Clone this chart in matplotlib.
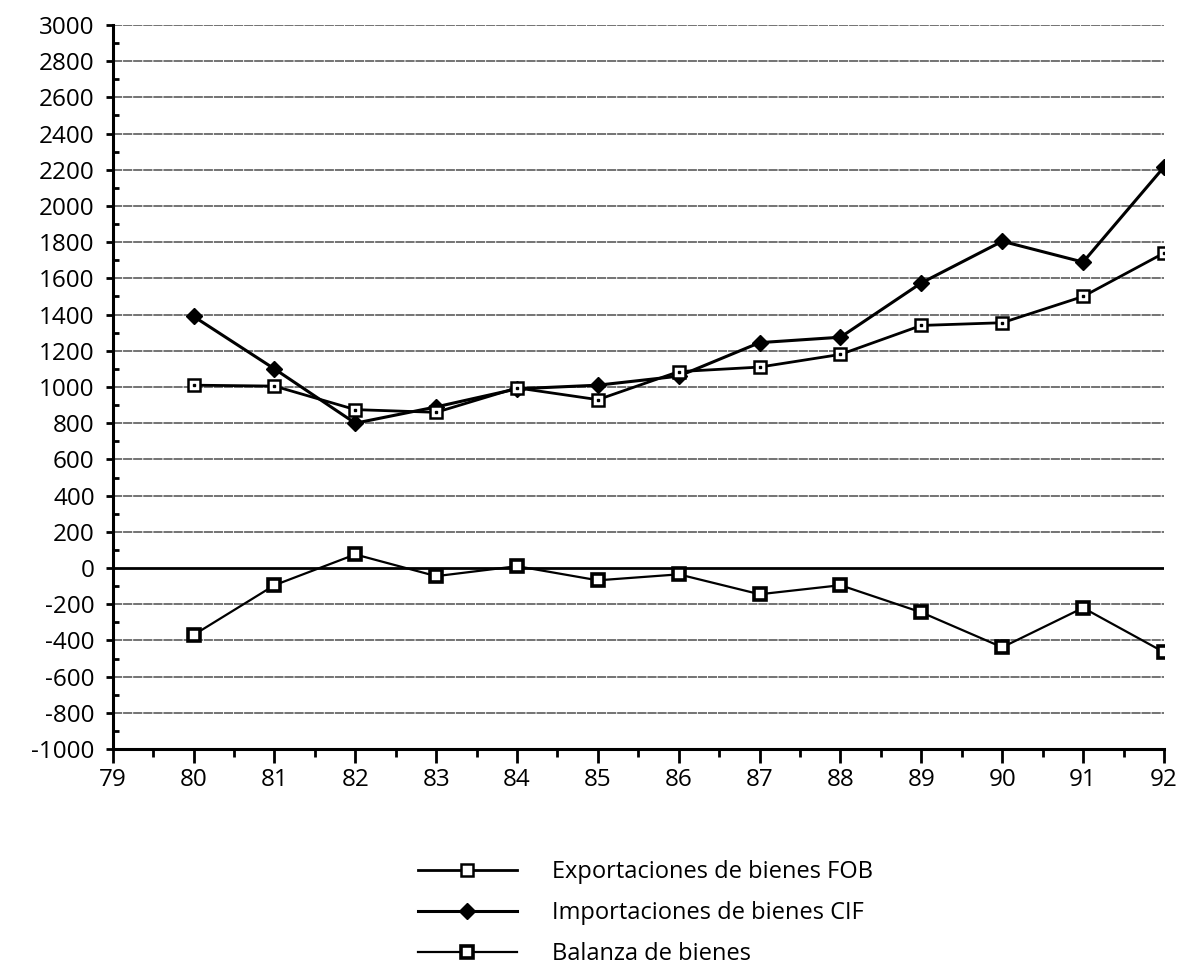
import numpy as np
import matplotlib
matplotlib.use("Agg")
import matplotlib.pyplot as plt
from matplotlib.ticker import MultipleLocator

plt.rcParams['font.family'] = ['Open Sans', 'DejaVu Sans']
plt.rcParams['axes.unicode_minus'] = False

# series (millones), años 1980-1992
years = [80, 81, 82, 83, 84, 85, 86, 87, 88, 89, 90, 91, 92]
exports = [1010, 1005, 875, 860, 995, 930, 1085, 1110, 1180, 1340, 1355, 1500, 1740]
imports = [1390, 1100, 800, 890, 990, 1010, 1060, 1245, 1275, 1575, 1805, 1690, 2215]
balance = [-370, -95, 75, -45, 10, -68, -35, -145, -95, -245, -438, -220, -465]

labels = ["Exportaciones de bienes FOB",
          "Importaciones de bienes CIF",
          "Balanza de bienes"]

fig = plt.figure(figsize=(11.8, 9.71), dpi=100)
ax = fig.add_axes([0.0955, 0.2286, 0.8909, 0.7457])

# horizontal grid every 200, heavier line at zero
for v in range(-800, 3001, 200):
    if v == 0:
        ax.axhline(v, color='black', lw=2.0, zorder=1)
    else:
        ax.axhline(v, color='0.3', lw=1.1, ls=(0, (6, 0.6)), zorder=1)

l1, = ax.plot(years, exports, color='black', lw=2.0, marker='s', ms=9,
              mfc='white', mec='black', mew=1.8, zorder=4)
ax.plot(years, exports, ls='none', marker='s', ms=2, color='black', zorder=5)
l2, = ax.plot(years, imports, color='black', lw=2.2, marker='D', ms=8,
              mfc='black', mec='black', zorder=3)
l3, = ax.plot(years, balance, color='black', lw=1.6, marker='s', ms=8,
              mfc='white', mec='black', mew=2.6, zorder=4)

ax.set_xlim(79, 92)
ax.set_ylim(-1000, 3000)
ax.xaxis.set_major_locator(MultipleLocator(1))
ax.xaxis.set_minor_locator(MultipleLocator(0.5))
ax.yaxis.set_major_locator(MultipleLocator(200))
ax.yaxis.set_minor_locator(MultipleLocator(100))

ax.spines['top'].set_visible(False)
ax.spines['right'].set_visible(False)
ax.spines['left'].set_linewidth(2.2)
ax.spines['bottom'].set_linewidth(2.2)

ax.tick_params(axis='x', which='major', direction='out', length=10, width=2,
               labelsize=17.5, pad=4)
ax.tick_params(axis='x', which='minor', direction='out', length=6, width=2)
ax.tick_params(axis='y', which='major', direction='out', length=5, width=2,
               labelsize=17.5, pad=8)
ax.tick_params(axis='y', which='minor', direction='in', length=4, width=2)

fig.legend([l1, l2, l3], labels, loc='upper left',
           bbox_to_anchor=(0.354, 0.114), frameon=False, fontsize=17,
           handlelength=4.2, handletextpad=1.5, labelspacing=0.72,
           borderaxespad=0, borderpad=0)

fig.savefig("out.png", dpi=100)
